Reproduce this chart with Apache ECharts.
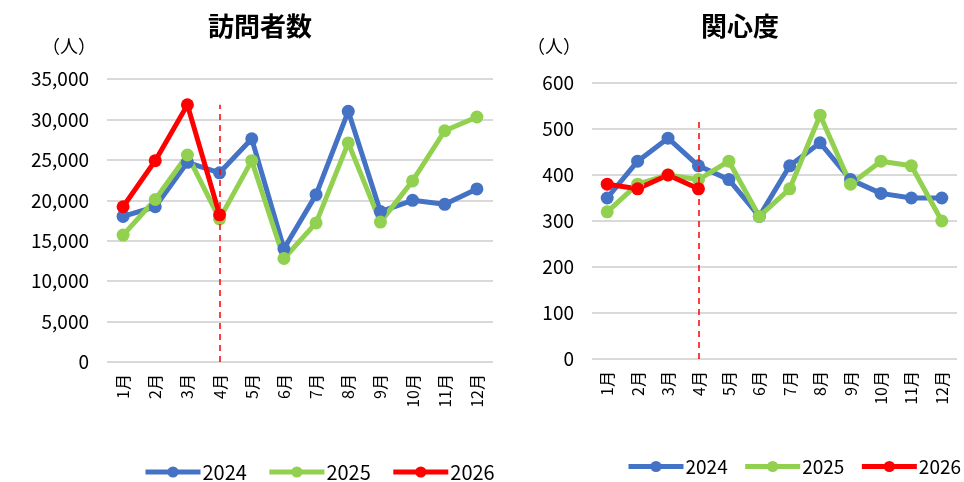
<!DOCTYPE html>
<html>
<head>
<meta charset="utf-8">
<script src="https://cdn.jsdelivr.net/npm/echarts@6/dist/echarts.min.js"></script>
<style>
  html, body { margin: 0; padding: 0; background: #fff; }
  #chart { width: 964px; height: 482px; }
</style>
</head>
<body>
<div id="chart"></div>
<script>
// 月ラベル
const months = ['1月', '2月', '3月', '4月', '5月', '6月', '7月', '8月', '9月', '10月', '11月', '12月']
const years = ['2024', '2025', '2026']

// 訪問者数
const visitors2024 = [18000, 19200, 24700, 23400, 27600, 14000, 20700, 31000, 18600, 20000, 19500, 21400]
const visitors2025 = [15700, 20100, 25600, 17700, 24900, 12800, 17200, 27100, 17300, 22400, 28600, 30300]
const visitors2026 = [19200, 24900, 31800, 18200]

// 関心度
const interest2024 = [350, 430, 480, 420, 390, 310, 420, 470, 390, 360, 350, 350]
const interest2025 = [320, 380, 400, 390, 430, 310, 370, 530, 380, 430, 420, 300]
const interest2026 = [380, 370, 400, 370]

// 4月の区切り線（上端の値）
const dividerMonth = '4月'
const dividerTop = [31800, 525]

const colors = ['#4472C4', '#92D050', '#FF0000']
const font = "'Noto Sans CJK JP', sans-serif"

const makeLine = (name, data, idx, color, top) => {
  const s = {
    name,
    type: 'line',
    xAxisIndex: idx,
    yAxisIndex: idx,
    data,
    symbol: 'circle',
    symbolSize: 13,
    lineStyle: { width: 5, color },
    itemStyle: { color },
    emphasis: { disabled: true },
  }
  if (top != null) {
    s.markLine = {
      silent: true,
      symbol: 'none',
      label: { show: false },
      lineStyle: { color: '#FF0000', type: [6, 5], width: 1.5 },
      data: [[{ xAxis: dividerMonth, yAxis: 0 }, { xAxis: dividerMonth, yAxis: top }]],
    }
  }
  return s
}

const xAxisBase = (idx) => ({
  type: 'category',
  gridIndex: idx,
  data: months,
  axisLine: { show: false },
  axisTick: { show: false },
  axisLabel: { rotate: 90, fontSize: 16, color: '#000', fontFamily: font, margin: 12 },
})

const yAxisBase = (idx, max, interval, fmt) => ({
  type: 'value',
  gridIndex: idx,
  min: 0,
  max,
  interval,
  axisLabel: { fontSize: 19, color: '#000', fontFamily: font, margin: 18, formatter: fmt },
  splitLine: { lineStyle: { color: '#d9d9d9', width: 2 } },
})

const legendBase = (left, top, size, gap) => ({
  left,
  top,
  width: 420,
  data: years,
  itemWidth: 55,
  itemHeight: 14,
  itemGap: gap,
  lineStyle: { width: 5 },
  textStyle: { fontSize: size, color: '#000', fontFamily: font, padding: [0, 0, 0, -3] },
  selectedMode: false,
})

const chart = echarts.init(document.getElementById('chart'))
chart.setOption({
  animation: false,
  backgroundColor: '#fff',
  title: [
    { text: '訪問者数', left: 255, top: 8, textAlign: 'center', textStyle: { fontSize: 26, fontWeight: 'bold', fontFamily: font, color: '#000' } },
    { text: '関心度', left: 735, top: 8, textAlign: 'center', textStyle: { fontSize: 26, fontWeight: 'bold', fontFamily: font, color: '#000' } },
  ],
  graphic: [
    { type: 'text', left: 42, top: 37, style: { text: '（人）', fontSize: 18, fontFamily: font, fill: '#000' } },
    { type: 'text', left: 527, top: 37, style: { text: '（人）', fontSize: 18, fontFamily: font, fill: '#000' } },
  ],
  legend: [legendBase(138, 457, 20, 20), legendBase(621, 452, 19, 15)],
  grid: [
    { left: 107, right: 471, top: 79, bottom: 120 },
    { left: 592, right: 7, top: 83, bottom: 123 },
  ],
  xAxis: [xAxisBase(0), xAxisBase(1)],
  yAxis: [
    yAxisBase(0, 35000, 5000, (v) => v.toLocaleString('en-US')),
    yAxisBase(1, 600, 100),
  ],
  series: [
    makeLine('2024', visitors2024, 0, colors[0]),
    makeLine('2025', visitors2025, 0, colors[1]),
    makeLine('2026', visitors2026, 0, colors[2], dividerTop[0]),
    makeLine('2024', interest2024, 1, colors[0]),
    makeLine('2025', interest2025, 1, colors[1]),
    makeLine('2026', interest2026, 1, colors[2], dividerTop[1]),
  ],
})
</script>
</body>
</html>
